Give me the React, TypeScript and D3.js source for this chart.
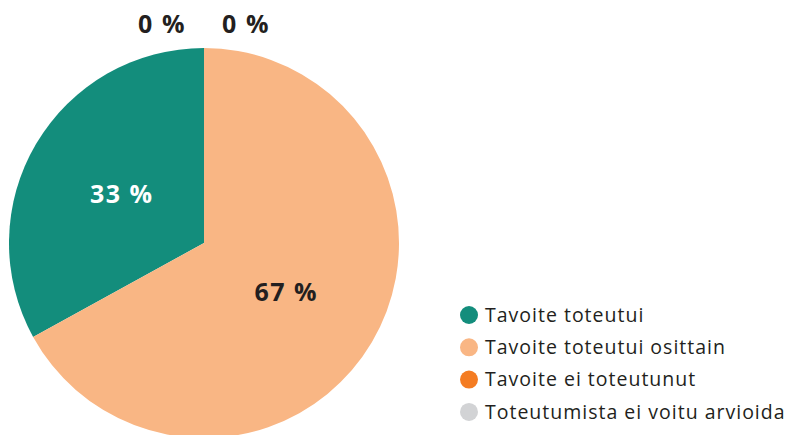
import React, { useEffect, useRef } from 'react';
import * as d3 from 'd3';

const categories = ['Tavoite toteutui', 'Tavoite toteutui osittain', 'Tavoite ei toteutunut', 'Toteutumista ei voitu arvioida'];
const values = [33, 67, 0, 0];
const colors = ['#138d7c', '#f9b684', '#f47c22', '#d2d3d5'];
const labelColors = ['#ffffff', '#231f20', '#231f20', '#231f20'];

const FONT = '"Open Sans", sans-serif';

const App = () => {
  const ref = useRef<SVGSVGElement>(null);

  useEffect(() => {
    const svg = d3.select(ref.current);
    svg.selectAll('*').remove();

    const width = 785;
    const height = 435;
    const cx = 204;
    const cy = 243;
    const radius = 195;

    svg.attr('width', width).attr('height', height);

    const data = categories.map((name, i) => ({ name, value: values[i], color: colors[i], labelColor: labelColors[i] }));

    // counter-clockwise from the top
    const pie = d3.pie<any>()
      .sort(null)
      .value(d => d.value)
      .startAngle(0)
      .endAngle(-2 * Math.PI);

    const arcs = pie(data);
    const arc = d3.arc<any>().innerRadius(0).outerRadius(radius);
    const inner = d3.arc<any>().innerRadius(radius * 0.49).outerRadius(radius * 0.49);

    const g = svg.append('g').attr('transform', `translate(${cx},${cy})`);

    g.selectAll('path')
      .data(arcs.filter(a => a.value > 0))
      .enter()
      .append('path')
      .attr('d', arc)
      .attr('fill', d => d.data.color);

    // Labels
    let zeroIdx = 0;
    arcs.forEach(a => {
      let x: number, y: number;
      if (a.value > 0) {
        [x, y] = inner.centroid(a);
      } else {
        x = (zeroIdx === 0 ? -1 : 1) * 42;
        y = -radius - 24;
        zeroIdx++;
      }
      g.append('text')
        .attr('x', x)
        .attr('y', y)
        .attr('dy', '0.36em')
        .attr('text-anchor', 'middle')
        .attr('font-family', FONT)
        .attr('font-weight', 'bold')
        .attr('font-size', '25px')
        .attr('letter-spacing', '1.5px')
        .attr('fill', a.value > 0 ? a.data.labelColor : '#231f20')
        .text(`${a.value} %`);
    });

    // Legend
    const legend = svg.append('g').attr('transform', 'translate(469, 315)');
    const row = legend.selectAll('g')
      .data(data)
      .enter()
      .append('g')
      .attr('transform', (d, i) => `translate(0, ${i * 32.3})`);

    row.append('circle')
      .attr('r', 9)
      .attr('fill', d => d.color);

    row.append('text')
      .attr('x', 16)
      .attr('dy', '0.35em')
      .attr('font-family', FONT)
      .attr('font-size', '19.5px')
      .attr('letter-spacing', '1px')
      .attr('fill', '#231f20')
      .text(d => d.name);
  }, []);

  return <svg ref={ref} style={{ display: 'block', position: 'absolute', left: 0, top: 0 }}></svg>;
};

export default App;
